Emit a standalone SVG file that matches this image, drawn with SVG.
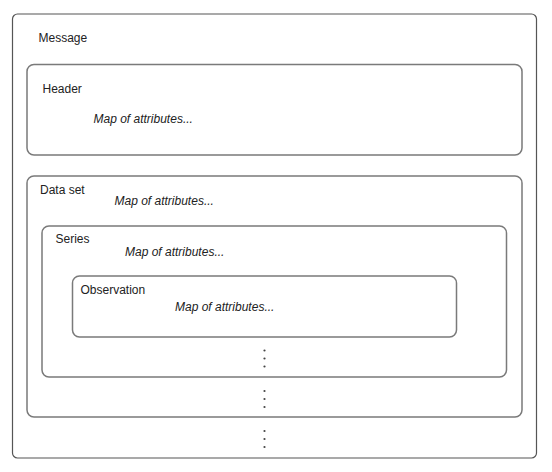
<svg xmlns="http://www.w3.org/2000/svg" width="552" height="472" viewBox="0 0 552 472">
<style>
.box{fill:#ffffff;stroke:#7a7a7a;stroke-width:1.5}
.outer{fill:#ffffff;stroke:#555555;stroke-width:1.2}
.t{font-family:"Liberation Sans",Arial,sans-serif;font-size:12px;fill:#222222}
.i{font-family:"Liberation Sans",Arial,sans-serif;font-size:12px;font-style:italic;fill:#222222}
.dot{fill:#444444}
</style>
<rect width="552" height="472" fill="#ffffff"/>
<g id="message">
<rect class="outer" x="12.5" y="14" width="524" height="444" rx="5"/>
<text class="t" x="38.5" y="42">Message</text>
</g>
<g id="header">
<rect class="box" x="27" y="64.5" width="495" height="90.5" rx="7"/>
<text class="t" x="42.5" y="92.5">Header</text>
<text class="i" x="93.5" y="123">Map of attributes...</text>
</g>
<g id="dataset">
<rect class="box" x="27" y="176" width="495" height="241" rx="7"/>
<text class="t" x="40" y="194">Data set</text>
<text class="i" x="114.5" y="204.5">Map of attributes...</text>
</g>
<g id="series">
<rect class="box" x="42" y="226" width="464.5" height="151" rx="7"/>
<text class="t" x="55.5" y="243">Series</text>
<text class="i" x="125" y="256">Map of attributes...</text>
</g>
<g id="observation">
<rect class="box" x="72.5" y="276" width="384" height="61" rx="7"/>
<text class="t" x="80.5" y="294">Observation</text>
<text class="i" x="175" y="311">Map of attributes...</text>
</g>
<g id="connectors">
<circle class="dot" cx="264.5" cy="350.5" r="1.1"/>
<circle class="dot" cx="264.5" cy="358.5" r="1.1"/>
<circle class="dot" cx="264.5" cy="366.5" r="1.1"/>
<circle class="dot" cx="264.5" cy="391" r="1.1"/>
<circle class="dot" cx="264.5" cy="399" r="1.1"/>
<circle class="dot" cx="264.5" cy="407" r="1.1"/>
<circle class="dot" cx="264.5" cy="431" r="1.1"/>
<circle class="dot" cx="264.5" cy="439" r="1.1"/>
<circle class="dot" cx="264.5" cy="447" r="1.1"/>
</g>
</svg>
